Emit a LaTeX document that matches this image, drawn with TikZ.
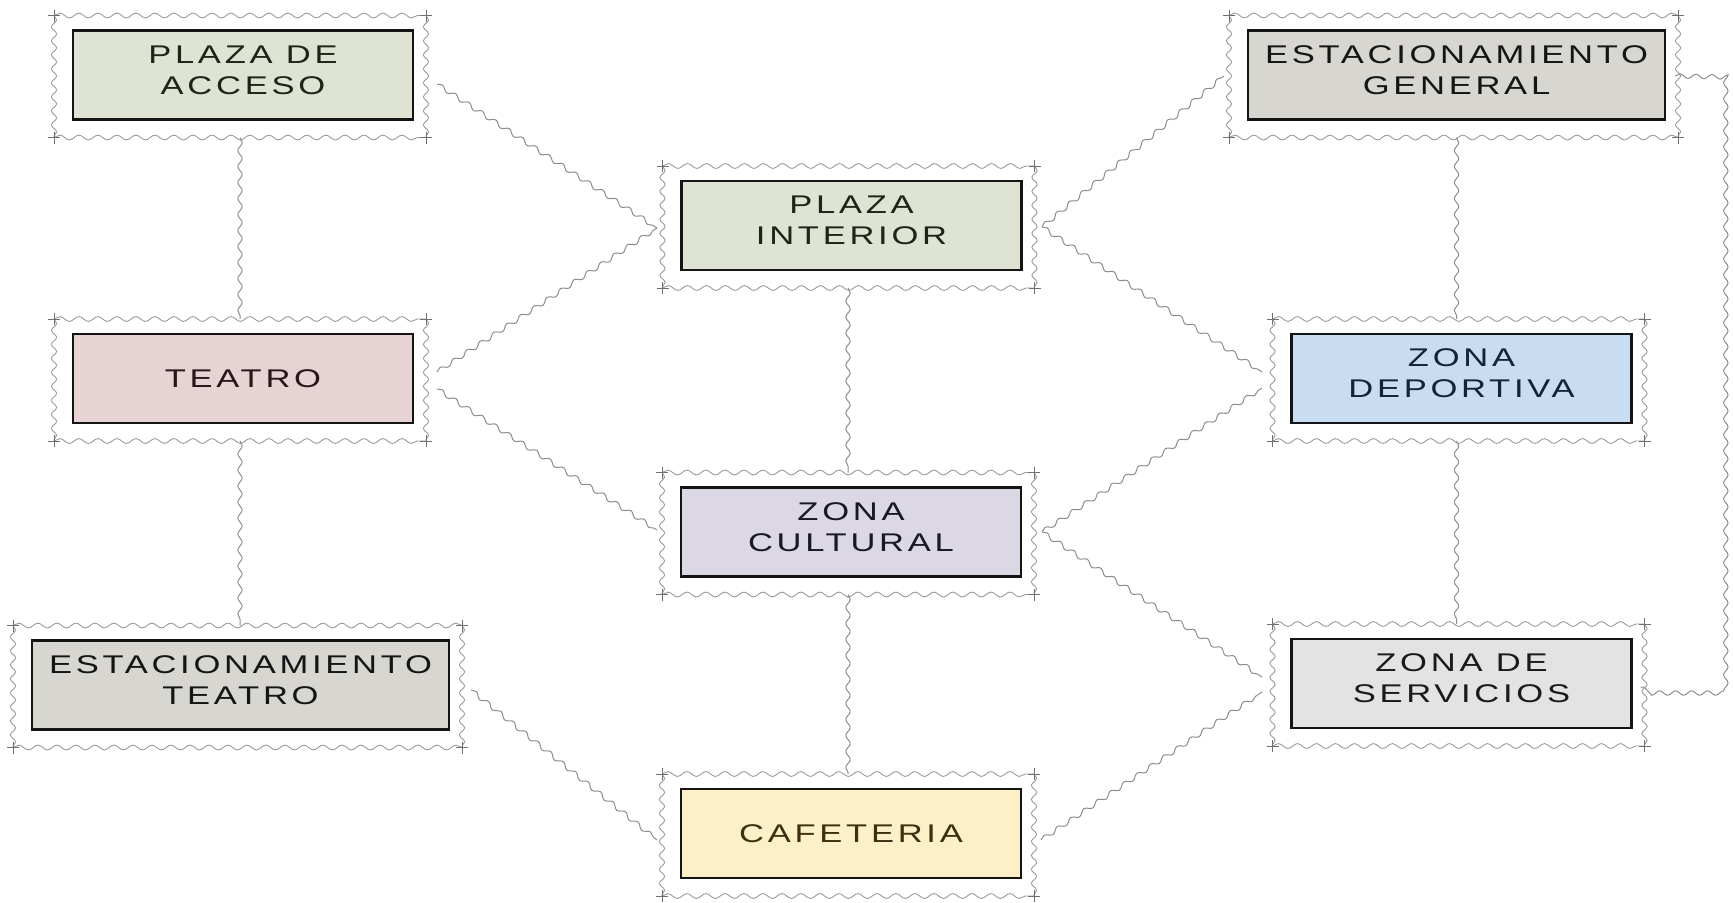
\documentclass[tikz,border=0pt]{standalone}
\usepackage{fontspec}
\newfontfamily\boxfont[FakeStretch=1.35,LetterSpace=14.5]{Liberation Sans}
\usetikzlibrary{decorations.pathmorphing,calc}
\definecolor{boxline}{HTML}{141414}
\definecolor{framegray}{HTML}{9A9A9A}
\definecolor{tickgray}{HTML}{707070}
\definecolor{conngray}{HTML}{8C8C8C}
\definecolor{fplaza}{HTML}{DFE3D3}
\definecolor{fteatro}{HTML}{E7D3D4}
\definecolor{fest}{HTML}{D7D6D1}
\definecolor{fcult}{HTML}{DCD7E4}
\definecolor{fcafe}{HTML}{FDF0C9}
\definecolor{fdep}{HTML}{C8DDF1}
\definecolor{fserv}{HTML}{E3E3E3}
\definecolor{tplaza}{HTML}{1F2418}
\definecolor{tteatro}{HTML}{2A1518}
\definecolor{test}{HTML}{151515}
\definecolor{tcult}{HTML}{1A1822}
\definecolor{tcafe}{HTML}{3B3010}
\definecolor{tdep}{HTML}{13233A}
\definecolor{tserv}{HTML}{1A1A1A}
\tikzset{
  room/.style={draw=boxline, line width=1.1pt, minimum height=44.5pt, minimum width=170pt, inner sep=0pt, outer sep=0pt},
  widebox/.style={minimum width=208.5pt},
  lbl/.style={font=\boxfont\fontsize{12.8}{15.5}\selectfont, align=center, inner sep=0pt},
  wavyh/.style={draw=framegray, line width=0.45pt, decorate, decoration={snake, segment length=9.5pt, amplitude=1.2pt}},
  wavyv/.style={draw=framegray, line width=0.45pt, decorate, decoration={snake, segment length=7pt, amplitude=1.3pt}},
  tick/.style={draw=tickgray, line width=0.45pt},
  conn/.style={draw=conngray, line width=0.5pt, decorate, decoration={snake, segment length=8pt, amplitude=1.1pt}},
}
\newcommand\roomframe[1]{%
  \coordinate (#1-nw) at ($(#1.north west)+(-19,-15)$);
  \coordinate (#1-se) at ($(#1.south east)+(13,18)$);
  \coordinate (#1-ne) at (#1-se |- #1-nw);
  \coordinate (#1-sw) at (#1-nw |- #1-se);
  \draw[wavyh] (#1-nw) -- (#1-ne);
  \draw[wavyh] (#1-sw) -- (#1-se);
  \draw[wavyv] (#1-nw) -- (#1-sw);
  \draw[wavyv] (#1-ne) -- (#1-se);
  \foreach \c in {nw,ne,sw,se}{
    \draw[tick] ($(#1-\c)+(-6,0)$) -- ($(#1-\c)+(6,0)$);
    \draw[tick] ($(#1-\c)+(0,-6)$) -- ($(#1-\c)+(0,6)$);
  }%
}
\begin{document}
\begin{tikzpicture}[x=0.5pt,y=-0.5pt]
\useasboundingbox (0,0) rectangle (1733,902);
% boxes
\node[room, fill=fplaza] (acceso) at (243,75) {};
\node[room, fill=fteatro] (teatro) at (243,378.5) {};
\node[room, widebox, fill=fest] (estteatro) at (240.5,685) {};
\node[room, fill=fplaza] (interior) at (851.5,225.5) {};
\node[room, fill=fcult] (cultural) at (851,532) {};
\node[room, fill=fcafe] (cafe) at (851,833.5) {};
\node[room, widebox, fill=fest] (estgen) at (1456.5,75) {};
\node[room, fill=fdep] (deport) at (1461.5,378.5) {};
\node[room, fill=fserv] (serv) at (1461.5,683.5) {};
% labels
\node[lbl, text=tplaza] (accesoT) at ($(acceso.center)+(0,-5)$) {PLAZA DE\\ACCESO};
\node[lbl, text=tteatro] (teatroT) at (teatro.center) {TEATRO};
\node[lbl, text=test] (estteatroT) at ($(estteatro.center)+(0,-5)$) {ESTACIONAMIENTO\\TEATRO};
\node[lbl, text=tplaza] (interiorT) at ($(interior.center)+(0,-5)$) {PLAZA\\INTERIOR};
\node[lbl, text=tcult] (culturalT) at ($(cultural.center)+(0,-5)$) {ZONA\\CULTURAL};
\node[lbl, text=tcafe] (cafeT) at (cafe.center) {CAFETERIA};
\node[lbl, text=test] (estgenT) at ($(estgen.center)+(0,-5)$) {ESTACIONAMIENTO\\GENERAL};
\node[lbl, text=tdep] (deportT) at ($(deport.center)+(0,-5)$) {ZONA\\DEPORTIVA};
\node[lbl, text=tserv] (servT) at ($(serv.center)+(0,-5)$) {ZONA DE\\SERVICIOS};
% frames
\roomframe{acceso}
\roomframe{teatro}
\roomframe{estteatro}
\roomframe{interior}
\roomframe{cultural}
\roomframe{cafe}
\roomframe{estgen}
\roomframe{deport}
\roomframe{serv}
% diagonal connectors
\draw[conn] ($(acceso.east)+(24,9)$) -- ($(interior.west)+(-24.5,2.5)$);
\draw[conn] ($(teatro.east)+(24,-6.5)$) -- ($(interior.west)+(-24.5,2.5)$);
\draw[conn] ($(teatro.east)+(24,10.5)$) -- ($(cultural.west)+(-24,-2)$);
\draw[conn] ($(estteatro.east)+(22,5)$) -- ($(cafe.west)+(-24,6.5)$);
\draw[conn] ($(interior.east)+(20.5,1.5)$) -- ($(estgen.west)+(-24,1)$);
\draw[conn] ($(interior.east)+(20.5,1.5)$) -- ($(deport.west)+(-29.5,-6.5)$);
\draw[conn] ($(cultural.east)+(21,0)$) -- ($(deport.west)+(-29.5,9.5)$);
\draw[conn] ($(cultural.east)+(21,0)$) -- ($(serv.west)+(-29.5,-6.5)$);
\draw[conn] ($(cafe.east)+(20,6.5)$) -- ($(serv.west)+(-29.5,8.5)$);
% vertical connectors
\draw[conn] ($(acceso.south)+(-3,18)$) -- ($(teatro.north)+(-3,-15)$);
\draw[conn] ($(teatro.south)+(-3,18)$) -- ($(estteatro.north)+(-0.5,-15)$);
\draw[conn] ($(interior.south)+(-3.5,18)$) -- ($(cultural.north)+(-3,-15)$);
\draw[conn] ($(cultural.south)+(-3,18)$) -- ($(cafe.north)+(-3,-15)$);
\draw[conn] ($(estgen.south)+(0,18)$) -- ($(deport.north)+(-5,-15)$);
\draw[conn] ($(deport.south)+(-5,18)$) -- ($(serv.north)+(-5,-15)$);
% right-hand loop
\coordinate (loopTop) at (1727,77);
\coordinate (loopBot) at (1727,687);
\draw[conn] ($(estgen.east)+(10,1)$) -- (loopTop) -- (loopBot) -- ($(serv.east)+(9,3.5)$);
\end{tikzpicture}
\end{document}
